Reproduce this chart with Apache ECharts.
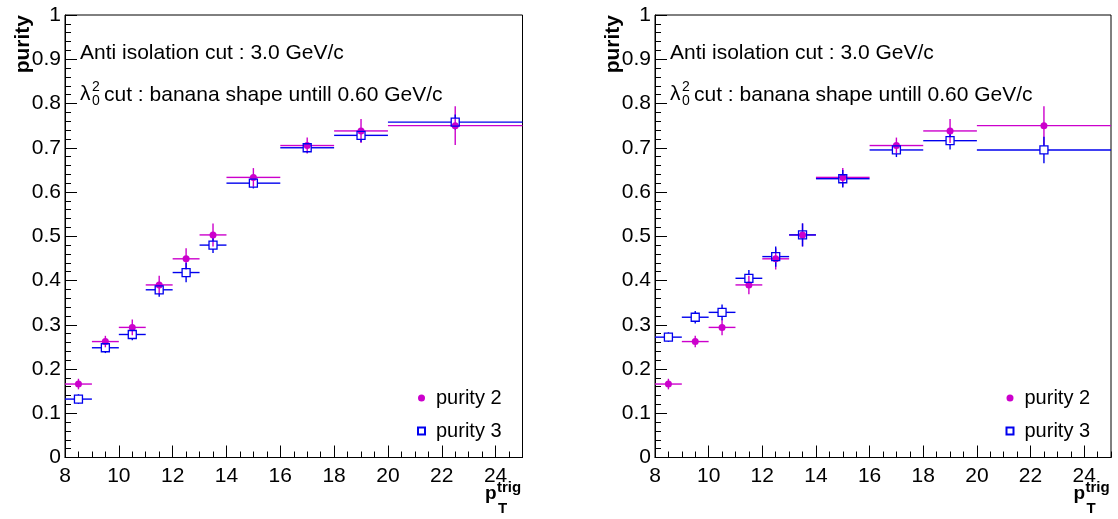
<!DOCTYPE html>
<html>
<head>
<meta charset="utf-8">
<script src="https://cdn.jsdelivr.net/npm/echarts@6/dist/echarts.min.js"></script>
<style>
  html, body { margin: 0; padding: 0; background: #fff; }
  #main { width: 1118px; height: 519px; }
</style>
</head>
<body>
<div id="main"></div>
<script>
// pT^trig bins
var binLo = [8, 9, 10, 11, 12, 13, 14, 16, 18, 20];
var binHi = [9, 10, 11, 12, 13, 14, 16, 18, 20, 25];
var binCenter = [8.5, 9.5, 10.5, 11.5, 12.5, 13.5, 15, 17, 19, 22.5];

// purity 2 (same in both panels)
var purity2 = [0.166, 0.262, 0.294, 0.390, 0.449, 0.503, 0.633, 0.705, 0.738, 0.750];
var purity2Err = [0.012, 0.013, 0.018, 0.021, 0.024, 0.026, 0.021, 0.018, 0.027, 0.044];

// purity 3, left and right panel
var purity3Left = [0.132, 0.248, 0.278, 0.379, 0.418, 0.480, 0.620, 0.700, 0.728, 0.758];
var purity3LeftErr = [0.011, 0.012, 0.013, 0.016, 0.022, 0.018, 0.012, 0.011, 0.015, 0.017];
var purity3Right = [0.272, 0.317, 0.328, 0.405, 0.454, 0.503, 0.630, 0.695, 0.716, 0.695];
var purity3RightErr = [0.011, 0.014, 0.018, 0.019, 0.023, 0.026, 0.020, 0.016, 0.020, 0.030];

var FONT = "'Liberation Sans', Arial, sans-serif";
var MAGENTA = '#cc00cc';
var BLUE = '#0000ee';

function points(vals) {
  return vals.map(function (v, i) { return [binCenter[i], v]; });
}
function errPoints(vals, errs) {
  return vals.map(function (v, i) {
    return [binCenter[i], v, binLo[i], binHi[i], v - errs[i], v + errs[i]];
  });
}

function errorBars(color, gap) {
  return function (params, api) {
    var c = api.coord([api.value(0), api.value(1)]);
    var lo = api.coord([api.value(2), api.value(1)]);
    var hi = api.coord([api.value(3), api.value(1)]);
    var top = api.coord([api.value(0), api.value(5)]);
    var bot = api.coord([api.value(0), api.value(4)]);
    var style = { stroke: color, lineWidth: 1.4 };
    var kids = [];
    function seg(x1, y1, x2, y2) {
      kids.push({ type: 'line', shape: { x1: x1, y1: y1, x2: x2, y2: y2 }, style: style });
    }
    seg(lo[0], c[1], c[0] - gap, c[1]);
    seg(c[0] + gap, c[1], hi[0], c[1]);
    if (c[1] - top[1] > gap) seg(c[0], top[1], c[0], c[1] - gap);
    if (bot[1] - c[1] > gap) seg(c[0], c[1] + gap, c[0], bot[1]);
    return { type: 'group', children: kids };
  };
}

var grids = [
  { left: 65, right: 595.5, top: 15, bottom: 61.5 },
  { left: 655, right: 7, top: 15, bottom: 61.5 }
];

var xAxes = [], yAxes = [], series = [], legends = [], graphics = [];

grids.forEach(function (g, gi) {
  g.show = true;
  g.borderColor = '#000';
  g.borderWidth = 1;

  // major x ticks + labels
  xAxes.push({
    gridIndex: gi, type: 'value', position: 'bottom', min: 8, max: 25, interval: 2,
    axisLine: { lineStyle: { color: '#000', width: 1 } },
    axisTick: { inside: true, length: 12, lineStyle: { color: '#000' } },
    axisLabel: { fontSize: 21, fontFamily: FONT, color: '#000', margin: 8, showMaxLabel: false },
    splitLine: { show: false }
  });
  // minor x ticks every 0.5
  xAxes.push({
    gridIndex: gi, type: 'value', position: 'bottom', min: 8, max: 25, interval: 0.5,
    axisLine: { show: false },
    axisTick: { inside: true, length: 6, lineStyle: { color: '#000' } },
    axisLabel: { show: false },
    splitLine: { show: false }
  });
  yAxes.push({
    gridIndex: gi, type: 'value', min: 0, max: 1, interval: 0.1,
    axisLine: { show: true, lineStyle: { color: '#000', width: 1 } },
    axisTick: { show: true, inside: true, length: 12, lineStyle: { color: '#000' } },
    minorTick: { show: true, splitNumber: 5, length: 6, lineStyle: { color: '#000' } },
    axisLabel: { fontSize: 21, fontFamily: FONT, color: '#000', margin: 4 },
    splitLine: { show: false }
  });

  var p3 = gi === 0 ? purity3Left : purity3Right;
  var p3e = gi === 0 ? purity3LeftErr : purity3RightErr;
  var xi = gi * 2;

  series.push({
    name: 'err2', type: 'custom', xAxisIndex: xi, yAxisIndex: gi, silent: true, z: 2,
    renderItem: errorBars(MAGENTA, 0), encode: { x: 0, y: 1 },
    data: errPoints(purity2, purity2Err)
  });
  series.push({
    name: 'err3', type: 'custom', xAxisIndex: xi, yAxisIndex: gi, silent: true, z: 2,
    renderItem: errorBars(BLUE, 4), encode: { x: 0, y: 1 },
    data: errPoints(p3, p3e)
  });
  series.push({
    name: 'purity 2', type: 'scatter', xAxisIndex: xi, yAxisIndex: gi, z: 3,
    symbol: 'circle', symbolSize: 7,
    itemStyle: { color: MAGENTA, opacity: 1 },
    data: points(purity2)
  });
  series.push({
    name: 'purity 3', type: 'scatter', xAxisIndex: xi, yAxisIndex: gi, z: 4,
    symbol: 'rect', symbolSize: 8,
    itemStyle: { color: 'rgba(255,255,255,0)', borderColor: BLUE, borderWidth: 1.3, opacity: 1 },
    data: points(p3)
  });

  var right = gi === 0 ? 522.5 : 1111;
  var left = g.left;

  legends.push({
    data: ['purity 2', 'purity 3'],
    orient: 'vertical',
    left: right - 105.5, top: 388,
    padding: 0,
    itemWidth: 7, itemHeight: 7, itemGap: 13,
    selectedMode: false,
    textStyle: { fontSize: 20, fontFamily: FONT, color: '#000', padding: [0, 0, 0, 6] }
  });

  // text annotations
  graphics.push({ type: 'text', x: left + 15, y: 53,
    style: { text: 'Anti isolation cut : 3.0 GeV/c', font: '21px ' + FONT, fill: '#000', verticalAlign: 'middle' } });
  graphics.push({ type: 'text', x: left + 15, y: 94,
    style: { text: 'λ', font: '21px ' + FONT, fill: '#000', verticalAlign: 'middle' } });
  graphics.push({ type: 'text', x: left + 27, y: 87,
    style: { text: '2', font: '14px ' + FONT, fill: '#000', verticalAlign: 'middle' } });
  graphics.push({ type: 'text', x: left + 27, y: 101,
    style: { text: '0', font: '14px ' + FONT, fill: '#000', verticalAlign: 'middle' } });
  graphics.push({ type: 'text', x: left + 39, y: 95,
    style: { text: 'cut : banana shape untill 0.60 GeV/c', font: '21px ' + FONT, fill: '#000', verticalAlign: 'middle' } });

  // axis titles
  graphics.push({ type: 'text', x: left - 42, y: 15, rotation: Math.PI / 2,
    style: { text: 'purity', font: 'bold 21px ' + FONT, fill: '#000', align: 'right', verticalAlign: 'middle' } });
  graphics.push({ type: 'text', x: right - 37.5, y: 494,
    style: { text: 'p', font: 'bold 19px ' + FONT, fill: '#000', verticalAlign: 'middle' } });
  graphics.push({ type: 'text', x: right - 24.5, y: 509,
    style: { text: 'T', font: 'bold 15px ' + FONT, fill: '#000', verticalAlign: 'middle' } });
  graphics.push({ type: 'text', x: right - 25.5, y: 488,
    style: { text: 'trig', font: 'bold 15px ' + FONT, fill: '#000', verticalAlign: 'middle' } });
});

var option = {
  animation: false,
  backgroundColor: '#fff',
  grid: grids,
  xAxis: xAxes,
  yAxis: yAxes,
  legend: legends,
  graphic: graphics,
  series: series
};

var chart = echarts.init(document.getElementById('main'));
chart.setOption(option);
</script>
</body>
</html>
